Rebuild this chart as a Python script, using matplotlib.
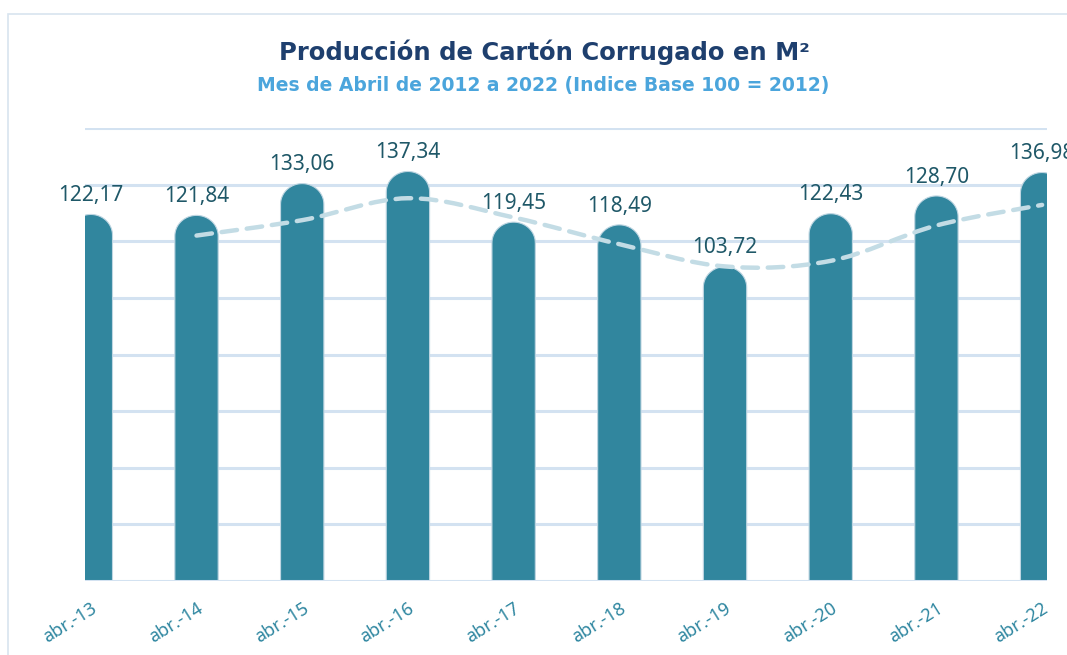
import numpy as np
import matplotlib
matplotlib.use("Agg")
import matplotlib.pyplot as plt
from matplotlib.path import Path
from matplotlib.patches import Polygon, PathPatch, Rectangle

# datos
meses = ['abr.-13', 'abr.-14', 'abr.-15', 'abr.-16', 'abr.-17',
         'abr.-18', 'abr.-19', 'abr.-20', 'abr.-21', 'abr.-22']
indice = [122.17, 121.84, 133.06, 137.34, 119.45,
          118.49, 103.72, 122.43, 128.70, 136.98]
# media movil de 2 periodos (desde abr.-14)
media_movil = [122.01, 127.45, 135.20, 128.40, 118.97,
               111.11, 113.08, 125.57, 132.84]

color_barra = '#31869E'
color_grid = '#D3E2F1'
color_linea = '#C3DCE5'


def barra_redondeada(ax, x, altura, ancho, tapa):
    # cuerpo rectangular + semielipse arriba
    t = np.linspace(0, np.pi, 40)
    arco_x = x + (ancho / 2) * np.cos(t)
    arco_y = altura + tapa * np.sin(t)
    xs = np.concatenate([[x + ancho / 2], arco_x, [x - ancho / 2]])
    ys = np.concatenate([[0], arco_y, [0]])
    poly = Polygon(np.column_stack([xs, ys]), closed=True,
                   facecolor=color_barra, edgecolor='#BFD6E2',
                   linewidth=0.8, zorder=3)
    ax.add_patch(poly)


def curva_suave(xs, ys, tension=1 / 6):
    # catmull-rom -> bezier (linea suavizada tipo Excel)
    pts = np.column_stack([xs, ys])
    verts = [pts[0]]
    codes = [Path.MOVETO]
    for i in range(len(pts) - 1):
        p0 = pts[i - 1] if i > 0 else pts[i]
        p1 = pts[i]
        p2 = pts[i + 1]
        p3 = pts[i + 2] if i + 2 < len(pts) else pts[i + 1]
        c1 = p1 + (p2 - p0) * tension
        c2 = p2 - (p3 - p1) * tension
        verts += [c1, c2, p2]
        codes += [Path.CURVE4] * 3
    return Path(verts, codes)


fig = plt.figure(figsize=(10.67, 6.55), dpi=100)
ax = fig.add_axes([85 / 1067, 74 / 655, 962 / 1067, 453 / 655])

# marco del grafico
fig.patches.append(Rectangle((8 / 1067, -0.1), 1.2, (655 - 14) / 655 + 0.1,
                             transform=fig.transFigure, fill=False,
                             edgecolor='#D8E4EF', linewidth=1.2))

ax.set_xlim(-0.055, 9.046)
ax.set_ylim(0, 160)

for g in range(20, 161, 20):
    ax.axhline(g, color=color_grid, linewidth=2.2, zorder=1)

pos = np.arange(len(meses))
ancho = 0.41
tapa = 7.3
for x, v in zip(pos, indice):
    barra_redondeada(ax, x, v, ancho, tapa)
    ax.annotate(f'{v:.2f}'.replace('.', ','), (x, v + tapa),
                xytext=(0, 6), textcoords='offset points',
                ha='center', va='bottom', fontsize=15,
                family='Noto Sans', color='#1F5868', zorder=5,
                annotation_clip=False)

ax.axhline(0, color=color_grid, linewidth=2.2, zorder=4)

camino = curva_suave(pos[1:].astype(float), np.array(media_movil))
linea = PathPatch(camino, fill=False, edgecolor=color_linea, linewidth=3.2,
                  linestyle=(0, (3.5, 2.2)), capstyle='round', zorder=4)
ax.add_patch(linea)

ax.set_xticks(pos)
ax.set_xticklabels(meses, rotation=32, ha='right', rotation_mode='anchor',
                   fontsize=13, family='Noto Sans', color='#2E86A0')
ax.tick_params(axis='x', length=0, pad=13)
ax.tick_params(axis='y', left=False, labelleft=False)
for s in ax.spines.values():
    s.set_visible(False)

fig.text(544 / 1067, 1 - 52 / 655, 'Producción de Cartón Corrugado en M²',
         ha='center', va='center', fontsize=17.5, fontweight='bold',
         family='DejaVu Sans', color='#1E3F6E')
fig.text(543 / 1067, 1 - 86 / 655,
         'Mes de Abril de 2012 a 2022 (Indice Base 100 = 2012)',
         ha='center', va='center', fontsize=13.5, fontweight='bold',
         family='DejaVu Sans', color='#4BA5DC')

fig.savefig('out.png', dpi=100)
